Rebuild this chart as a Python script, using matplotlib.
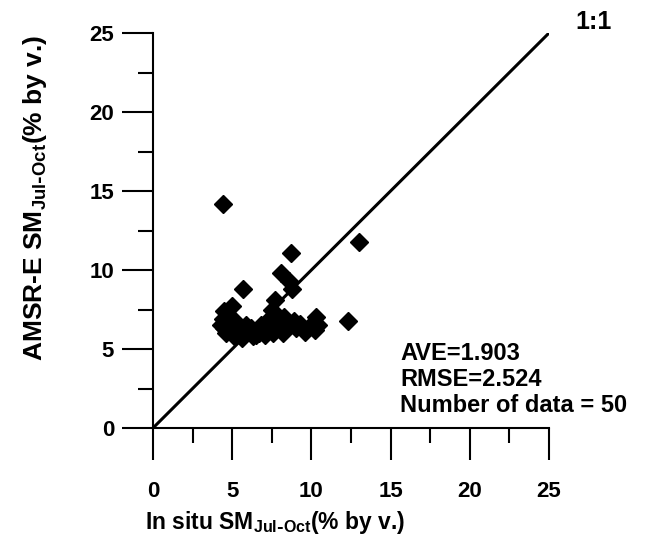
import matplotlib.pyplot as plt
from matplotlib.ticker import MultipleLocator

# in situ SM vs AMSR-E SM (Jul-Oct), % by volume
in_situ = [4.4, 13.0, 8.7, 8.1, 8.6, 8.8, 5.7, 7.7, 12.3, 5.0,
           4.5, 7.5, 10.3, 10.4, 10.2, 9.3, 9.6, 8.2, 8.5, 7.9,
           7.3, 7.0, 6.7, 6.3, 6.0, 5.6, 5.3, 5.0, 4.6, 4.3,
           4.4, 4.7, 5.2, 5.5, 5.9, 6.2, 4.8, 5.6, 6.5, 7.6,
           8.9, 7.1, 5.1, 4.5, 5.8, 6.8, 8.3, 9.0, 7.4, 10.0]
amsre = [14.2, 11.8, 11.1, 9.8, 9.3, 8.8, 8.8, 8.1, 6.8, 7.7,
         7.4, 7.5, 7.0, 6.5, 6.2, 6.6, 6.1, 6.0, 6.4, 6.6,
         6.8, 6.3, 6.0, 5.8, 6.1, 5.7, 6.0, 6.3, 6.0, 6.5,
         6.9, 6.6, 6.8, 6.4, 6.5, 6.3, 7.1, 6.0, 5.9, 6.0,
         6.8, 5.9, 5.8, 6.3, 6.2, 6.5, 7.0, 6.3, 6.4, 6.5]
one_to_one = [0, 25]
stats = ['AVE=1.903', 'RMSE=2.524', 'Number of data = 50']

plt.rcParams['font.family'] = ['Liberation Sans', 'DejaVu Sans']
plt.rcParams['font.weight'] = 'bold'

fig = plt.figure(figsize=(6.51, 5.41), dpi=100)
ax = fig.add_axes([153 / 651, 1 - 428 / 541, 396 / 651, 395 / 541])

ax.plot(one_to_one, one_to_one, color='black', lw=2.2, solid_capstyle='butt')
ax.plot(in_situ, amsre, 'D', color='black', markersize=9, clip_on=False)

ax.set_xlim(0, 25)
ax.set_ylim(0, 25)
ax.spines['top'].set_visible(False)
ax.spines['right'].set_visible(False)
ax.spines['left'].set_linewidth(1.5)
ax.spines['bottom'].set_linewidth(1.5)

ax.xaxis.set_major_locator(MultipleLocator(5))
ax.xaxis.set_minor_locator(MultipleLocator(2.5))
ax.yaxis.set_major_locator(MultipleLocator(5))
ax.yaxis.set_minor_locator(MultipleLocator(2.5))
ax.tick_params(axis='x', which='major', direction='out', length=23, width=1.5, pad=15, labelsize=16)
ax.tick_params(axis='y', which='major', direction='out', length=22, width=1.5, pad=6, labelsize=16)
ax.tick_params(which='minor', direction='out', length=11, width=1.5)
for lab in ax.get_xticklabels() + ax.get_yticklabels():
    lab.set_fontweight('bold')

fig.text(275 / 651, 1 - 522 / 541, r'In situ SM$_{\mathregular{Jul\text{-}Oct}}$(% by v.)',
         ha='center', va='center', fontsize=16.5, fontweight='bold')
fig.text(35 / 651, 1 - 198 / 541, r'AMSR-E SM$_{\mathregular{Jul\text{-}Oct}}$(% by v.)',
         ha='center', va='center', fontsize=19, fontweight='bold', rotation=90)

fig.text(594 / 651, 1 - 22 / 541, '1:1', ha='center', va='center', fontsize=18, fontweight='bold')
for i, s in enumerate(stats):
    fig.text(400 / 651, 1 - (353 + 26 * i) / 541, s, ha='left', va='center',
             fontsize=17, fontweight='bold')

fig.savefig('out.png', dpi=100)
